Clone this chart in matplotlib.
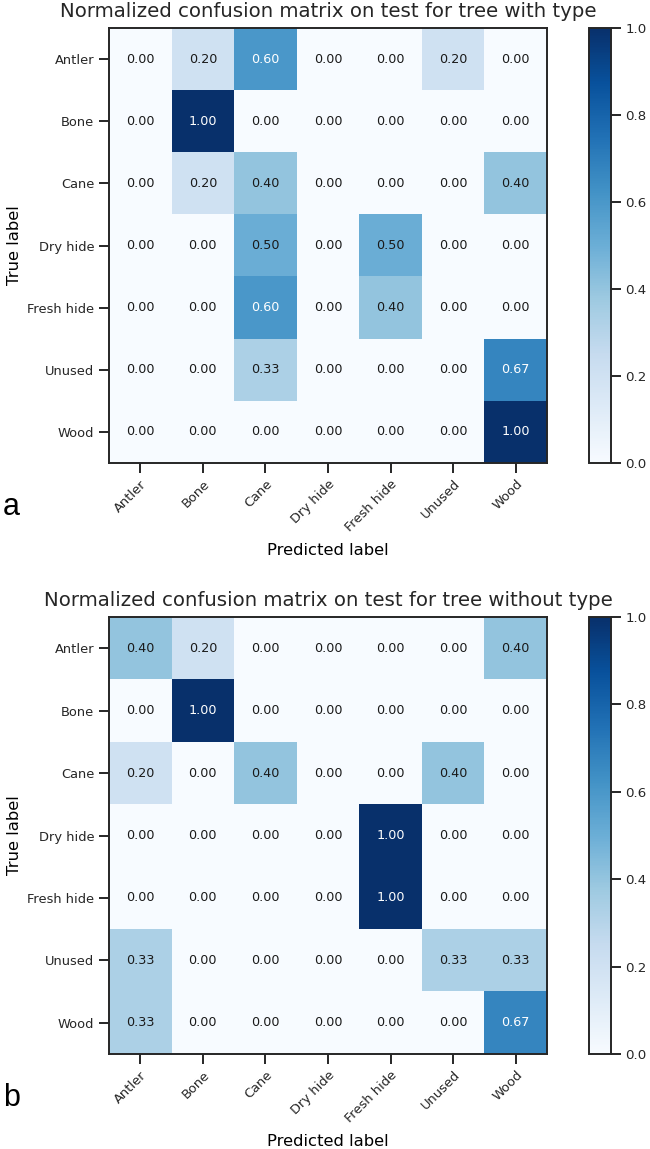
"""Two normalized confusion matrices (tree with / without type)."""
import matplotlib
matplotlib.use("Agg")
import matplotlib.pyplot as plt
import numpy as np

classes = ["Antler", "Bone", "Cane", "Dry hide", "Fresh hide", "Unused", "Wood"]

cm_with_type = [
    [0.00, 0.20, 0.60, 0.00, 0.00, 0.20, 0.00],
    [0.00, 1.00, 0.00, 0.00, 0.00, 0.00, 0.00],
    [0.00, 0.20, 0.40, 0.00, 0.00, 0.00, 0.40],
    [0.00, 0.00, 0.50, 0.00, 0.50, 0.00, 0.00],
    [0.00, 0.00, 0.60, 0.00, 0.40, 0.00, 0.00],
    [0.00, 0.00, 0.33, 0.00, 0.00, 0.00, 0.67],
    [0.00, 0.00, 0.00, 0.00, 0.00, 0.00, 1.00],
]

cm_without_type = [
    [0.40, 0.20, 0.00, 0.00, 0.00, 0.00, 0.40],
    [0.00, 1.00, 0.00, 0.00, 0.00, 0.00, 0.00],
    [0.20, 0.00, 0.40, 0.00, 0.00, 0.40, 0.00],
    [0.00, 0.00, 0.00, 0.00, 1.00, 0.00, 0.00],
    [0.00, 0.00, 0.00, 0.00, 1.00, 0.00, 0.00],
    [0.33, 0.00, 0.00, 0.00, 0.00, 0.33, 0.33],
    [0.33, 0.00, 0.00, 0.00, 0.00, 0.00, 0.67],
]

titles = ["Normalized confusion matrix on test for tree with type",
          "Normalized confusion matrix on test for tree without type"]
panel_letters = ["a", "b"]

plt.rcParams["font.family"] = "DejaVu Sans"
plt.rcParams["axes.edgecolor"] = "0.15"
plt.rcParams["axes.linewidth"] = 1.4
plt.rcParams["xtick.color"] = "0.15"
plt.rcParams["ytick.color"] = "0.15"
plt.rcParams["xtick.major.size"] = 7
plt.rcParams["ytick.major.size"] = 7
plt.rcParams["xtick.major.width"] = 1.4
plt.rcParams["ytick.major.width"] = 1.4
plt.rcParams["text.color"] = "0.15"

W, H = 650, 1149
fig = plt.figure(figsize=(W / 100, H / 100), dpi=100)


def px_rect(x0, y0, x1, y1):
    return [x0 / W, 1 - y1 / H, (x1 - x0) / W, (y1 - y0) / H]


layouts = [(28, 463), (617, 1054)]

for cm, title, letter, (top, bottom) in zip([cm_with_type, cm_without_type],
                                            titles, panel_letters, layouts):
    cm = np.array(cm)
    ax = fig.add_axes(px_rect(109, top, 547, bottom))
    cax = fig.add_axes(px_rect(589, top, 611, bottom))
    im = ax.imshow(cm, cmap="Blues", vmin=0, vmax=1, aspect="auto",
                   interpolation="nearest")
    ax.set_title(title, fontsize=14.2, pad=8)
    ticks = np.arange(len(classes))
    ax.set_xticks(ticks)
    ax.set_xticklabels(classes, rotation=45, ha="right", rotation_mode="anchor",
                       fontsize=9.4)
    ax.set_yticks(ticks)
    ax.set_yticklabels(classes, fontsize=9.4)
    thresh = cm.max() / 2.0
    for i in range(cm.shape[0]):
        for j in range(cm.shape[1]):
            ax.text(j, i, format(cm[i, j], ".2f"), ha="center", va="center",
                    fontsize=9.2,
                    color="white" if cm[i, j] > thresh else "0.1")
    ax.set_ylabel("True label", fontsize=11.8)
    ax.set_xlabel("Predicted label", fontsize=11.8, labelpad=6)
    cb = fig.colorbar(im, cax=cax)
    cb.set_ticks([0.0, 0.2, 0.4, 0.6, 0.8, 1.0])
    cb.ax.tick_params(labelsize=9.6)
    cb.outline.set_linewidth(1.4)
    cb.outline.set_edgecolor("0.15")
    fig.text(3 / W, 1 - (bottom + 44) / H, letter, fontsize=22,
             family="Liberation Sans", color="black", va="center", ha="left")

fig.savefig("out.png", dpi=100)
